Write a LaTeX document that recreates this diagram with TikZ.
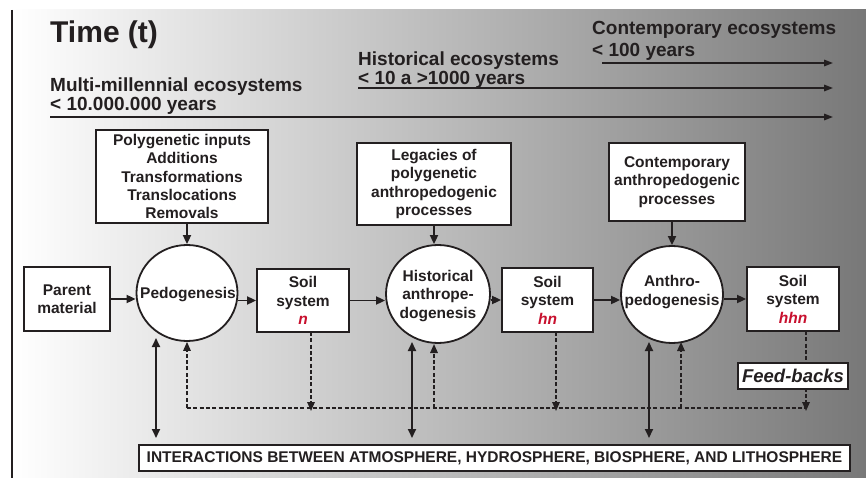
\documentclass[tikz,border=0pt]{standalone}
\usepackage{fontspec}
\setmainfont{Liberation Sans}
\usetikzlibrary{arrows.meta,shapes.geometric,calc}
\definecolor{ink}{HTML}{231F20}
\definecolor{redt}{HTML}{C8102E}
\definecolor{bgR}{HTML}{787878}
\begin{document}
\begin{tikzpicture}[x=1pt,y=-1pt,
  every node/.style={text=ink},
  box/.style={draw=ink, line width=1.8pt, fill=white, inner sep=0pt, align=center,
              font=\bfseries\fontsize{15.5}{18.4}\selectfont},
  circ/.style={ellipse, draw=ink, line width=1.8pt, fill=white, inner sep=0pt},
  ctext/.style={align=center, inner sep=0pt, font=\bfseries\fontsize{15.5}{18.5}\selectfont},
  head/.style={anchor=base west, inner sep=0pt, font=\bfseries\fontsize{19}{20}\selectfont},
  arr/.style={draw=ink, line width=1.8pt, -{Triangle[length=9pt,width=8pt]}},
  darr/.style={draw=ink, line width=1.8pt, {Triangle[length=9pt,width=8pt]}-{Triangle[length=9pt,width=8pt]}},
  tarr/.style={draw=ink, line width=1.6pt, -{Triangle[length=9pt,width=6.5pt]}},
  dashline/.style={draw=ink, line width=1.6pt, dash pattern=on 4pt off 2.3pt},
  dasharr/.style={dashline, -{Triangle[length=9pt,width=7.5pt]}}
]
\useasboundingbox (0,0) rectangle (866,478);
% background
\shade[left color=white, right color=bgR] (12,10) rectangle (866,478);
\draw[ink, line width=1.5pt] (12,10) -- (12,478);

% title and time scales
\node[anchor=base west, inner sep=0pt, font=\bfseries\fontsize{30}{32}\selectfont] (time) at (50,43) {Time (t)};
\node[head] (contT) at (592,35) {Contemporary ecosystems};
\node[head] (contY) at (592,57) {< 100 years};
\node[head] (histT) at (358,66) {Historical ecosystems};
\node[head] (histY) at (358,85) {< 10 a >1000 years};
\node[head] (multT) at (50,92) {Multi-millennial ecosystems};
\node[head] (multY) at (50,111) {< 10.000.000 years};
\coordinate (c1) at (602,63); \coordinate (c2) at (833,63);
\coordinate (h1) at (358,88); \coordinate (h2) at (833,88);
\coordinate (m1) at (50,117); \coordinate (m2) at (833,117);
\draw[tarr] (c1) -- (c2);
\draw[tarr] (h1) -- (h2);
\draw[tarr] (m1) -- (m2);

% input boxes
\node[box, minimum width=172pt, minimum height=93pt] (poly) at (182,176.5)
  {Polygenetic inputs\\Additions\\Transformations\\Translocations\\Removals};
\node[box, minimum width=154pt, minimum height=82pt] (leg) at (434,184)
  {Legacies of\\polygenetic\\anthropedogenic\\processes};
\node[box, minimum width=136pt, minimum height=78pt] (cont) at (677,182)
  {Contemporary\\anthropedogenic\\processes};

% main chain
\node[box, minimum width=86pt, minimum height=64pt] (parent) at (67,299) {Parent\\material};
\node[circ, minimum width=101pt, minimum height=96pt] (ped) at (187,293) {};
\node[ctext] (pedT) at (188,295) {Pedogenesis};
\node[box, minimum width=92pt, minimum height=63pt] (soiln) at (303,300.5)
  {Soil\\system\\{\color{redt}\itshape n}};
\node[circ, minimum width=104pt, minimum height=98pt] (hist) at (438,294) {};
\node[ctext] (histT2) at (438,296) {Historical\\anthrope-\\dogenesis};
\node[box, minimum width=91pt, minimum height=64pt] (soilhn) at (547.5,300)
  {Soil\\system\\{\color{redt}\itshape hn}};
\node[circ, minimum width=102pt, minimum height=97pt] (anth) at (672,294.5) {};
\node[ctext] (anthT) at (672,292) {Anthro-\\pedogenesis};
\node[box, minimum width=92pt, minimum height=64pt] (soilhhn) at (793,299)
  {Soil\\system\\{\color{redt}\itshape hhn}};

\draw[arr] (poly.south -| ped.north) -- (ped.north);
\draw[arr] (leg.south) -- (leg.south |- hist.north);
\draw[arr] (cont.south -| anth.north) -- (anth.north);

\draw[arr] (parent.east) -- (ped.west |- parent.east);
\draw[arr] (ped.east |- soiln.west) -- (soiln.west);
\draw[arr] (soiln.east) -- (hist.west |- soiln.east);
\draw[arr] (hist.east |- soilhn.west) -- (soilhn.west);
\draw[arr] (soilhn.east) -- (anth.west |- soilhn.east);
\draw[arr] (anth.east |- soilhhn.west) -- (soilhhn.west);

% bottom
\node[box, minimum width=711pt, minimum height=26pt, font=\bfseries\fontsize{15.5}{17}\selectfont] (inter) at (494.5,458)
  {INTERACTIONS BETWEEN ATMOSPHERE, HYDROSPHERE, BIOSPHERE, AND LITHOSPHERE};

% interaction double arrows
\coordinate (i1a) at (156,338); \coordinate (i1b) at (156,438);
\coordinate (i2a) at (412,342); \coordinate (i2b) at (412,438);
\coordinate (i3a) at (649,342); \coordinate (i3b) at (649,438);
\draw[darr] (i1a) -- (i1b);
\draw[darr] (i2a) -- (i2b);
\draw[darr] (i3a) -- (i3b);

% feedback dashed network
\coordinate (fL) at (187,408);
\coordinate (fR) at (806,408);
\draw[dashline] (fL) -- (fR);
\coordinate (u2) at (434,408);
\coordinate (u2t) at (434,344);
\coordinate (u3) at (681,408);
\coordinate (u3t) at (681,342);
\draw[dasharr] (fL) -- (ped.south);
\draw[dasharr] (u2) -- (u2t);
\draw[dasharr] (u3) -- (u3t);
\coordinate (d1a) at (311,332); \coordinate (d1b) at (311,411);
\coordinate (d2a) at (556,332); \coordinate (d2b) at (556,411);
\coordinate (d3a) at (806,331); \coordinate (d3b) at (806,411);
\draw[dasharr] (d1a) -- (d1b);
\draw[dasharr] (d2a) -- (d2b);
\draw[dasharr] (d3a) -- (d3b);
\node[box, minimum width=110pt, minimum height=26pt, font=\bfseries\itshape\fontsize{18.5}{20}\selectfont] (feed) at (793,376) {Feed-backs};
\end{tikzpicture}
\end{document}
